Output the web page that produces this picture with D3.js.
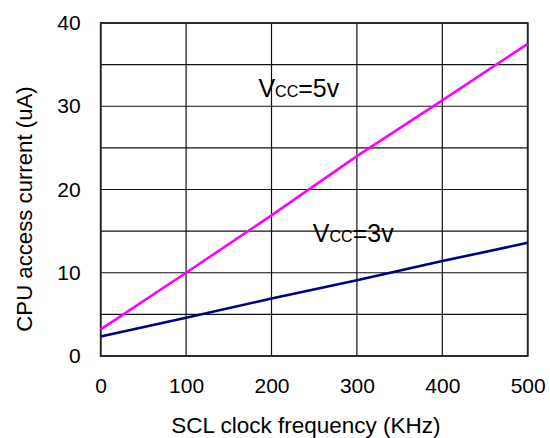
<!DOCTYPE html>
<html>
<head>
<meta charset="utf-8">
<script src="https://cdn.jsdelivr.net/npm/d3@7"></script>
<style>
  body { margin: 0; background: #fff; }
  svg text { font-family: "Liberation Sans", Arial, sans-serif; fill: #000; }
</style>
</head>
<body>
<svg id="chart" width="550" height="438"></svg>
<script>
// Data
const freq = [0, 100, 200, 300, 400, 500];
const vcc5 = [3.2, 10.0, 16.9, 24.0, 30.7, 37.5];
const vcc3 = [2.35, 4.6, 6.9, 9.1, 11.4, 13.6];
const xTicks = [0, 100, 200, 300, 400, 500];
const yTicks = [0, 10, 20, 30, 40];
const yGrid = [0, 5, 10, 15, 20, 25, 30, 35, 40];
const seriesLabels = [
  { main: "V", sub: "CC", rest: "=5v", x: 184.7, y: 31.1 },
  { main: "V", sub: "CC", rest: "=3v", x: 248.4, y: 13.7 }
];

const svg = d3.select("#chart");
const x = d3.scaleLinear().domain([0, 500]).range([100.7, 527.7]);
const y = d3.scaleLinear().domain([0, 40]).range([356, 23]);

// grid
svg.append("g").selectAll("line").data(yGrid).join("line")
  .attr("x1", x(0)).attr("x2", x(500))
  .attr("y1", d => y(d)).attr("y2", d => y(d))
  .attr("stroke", "#111").attr("stroke-width", 1.2);
svg.append("g").selectAll("line").data(xTicks).join("line")
  .attr("x1", d => x(d)).attr("x2", d => x(d))
  .attr("y1", y(0)).attr("y2", y(40))
  .attr("stroke", "#111").attr("stroke-width", 1.2);
// border
svg.append("rect")
  .attr("x", x(0)).attr("y", y(40))
  .attr("width", x(500) - x(0)).attr("height", y(0) - y(40))
  .attr("fill", "none").attr("stroke", "#222").attr("stroke-width", 1.8);

// axes via d3 (tick labels only)
const xAxis = svg.append("g").attr("transform", `translate(0,${y(0)})`)
  .call(d3.axisBottom(x).tickValues(xTicks).tickSize(0).tickPadding(22));
xAxis.select(".domain").remove();
xAxis.selectAll("text").attr("font-size", 21).attr("font-family", "Liberation Sans, Arial, sans-serif").attr("fill", "#000");

const yAxis = svg.append("g").attr("transform", `translate(${x(0)},0)`)
  .call(d3.axisLeft(y).tickValues(yTicks).tickSize(0).tickPadding(20));
yAxis.select(".domain").remove();
yAxis.selectAll("text").attr("font-size", 21).attr("font-family", "Liberation Sans, Arial, sans-serif").attr("fill", "#000");

// lines
const line = d3.line().x((d, i) => x(freq[i])).y(d => y(d));
svg.append("path").datum(vcc5).attr("d", line)
  .attr("fill", "none").attr("stroke", "#FF00FF").attr("stroke-width", 2.6);
svg.append("path").datum(vcc3).attr("d", line)
  .attr("fill", "none").attr("stroke", "#000080").attr("stroke-width", 2.6);

// series labels
seriesLabels.forEach(l => {
  const t = svg.append("text").attr("x", x(l.x)).attr("y", y(l.y)).attr("font-size", 25);
  t.append("tspan").text(l.main);
  t.append("tspan").attr("font-size", 16).text(l.sub);
  t.append("tspan").text(l.rest);
});

// axis titles
svg.append("text").attr("x", 306).attr("y", 433)
  .attr("text-anchor", "middle").attr("font-size", 22.5)
  .text("SCL clock frequency (KHz)");
svg.append("text")
  .attr("transform", "translate(32,209) rotate(-90)")
  .attr("text-anchor", "middle").attr("font-size", 22.2)
  .text("CPU access current (uA)");
</script>
</body>
</html>
